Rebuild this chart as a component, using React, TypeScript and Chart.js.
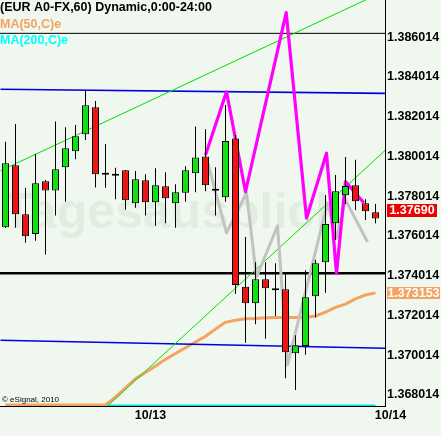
import React, { useEffect, useRef } from 'react';
import { Chart, registerables } from 'chart.js';

Chart.register(...registerables);

// ---- Candles (hourly EUR/USD, 38 bars) ----
const opens = [1.37645, 1.37957, 1.37711, 1.37612, 1.37877, 1.37831, 1.37947, 1.38028, 1.38113, 1.38249, 1.37910, 1.37905, 1.37932, 1.37766, 1.37882, 1.37771, 1.37852, 1.37766, 1.37819, 1.37917, 1.38002, 1.37829, 1.37796, 1.38092, 1.37346, 1.37263, 1.37384, 1.37328, 1.37333, 1.37011, 1.37048, 1.37298, 1.37469, 1.37665, 1.37806, 1.37857, 1.37766, 1.37721];
const highs = [1.38076, 1.38165, 1.37844, 1.38014, 1.37883, 1.38177, 1.38148, 1.38160, 1.38336, 1.38281, 1.38064, 1.37945, 1.37934, 1.37929, 1.37912, 1.37942, 1.37922, 1.37862, 1.37952, 1.38153, 1.38138, 1.37947, 1.38261, 1.38110, 1.37596, 1.37469, 1.37469, 1.37464, 1.37409, 1.37102, 1.37429, 1.37482, 1.37808, 1.37908, 1.37999, 1.37985, 1.37786, 1.37762];
const lows = [1.37642, 1.37643, 1.37568, 1.37578, 1.37509, 1.37704, 1.37774, 1.37987, 1.38085, 1.37846, 1.37844, 1.37786, 1.37734, 1.37744, 1.37704, 1.37653, 1.37665, 1.37643, 1.37774, 1.37821, 1.37826, 1.37704, 1.37774, 1.37310, 1.37065, 1.37157, 1.37085, 1.37199, 1.36886, 1.36827, 1.37004, 1.37192, 1.37316, 1.37581, 1.37762, 1.37732, 1.37682, 1.37665];
const closes = [1.37967, 1.37711, 1.37600, 1.37867, 1.37831, 1.37937, 1.38043, 1.38103, 1.38259, 1.37912, 1.37910, 1.37905, 1.37781, 1.37887, 1.37771, 1.37857, 1.37791, 1.37821, 1.37932, 1.37997, 1.37857, 1.37829, 1.38079, 1.37355, 1.37263, 1.37384, 1.37338, 1.37328, 1.37016, 1.37052, 1.37293, 1.37464, 1.37662, 1.37826, 1.37853, 1.37776, 1.37726, 1.37690];

// ---- Moving averages (values at the bottom edge are clipped off-chart) ----
const ma50 = [1.36751, 1.36751, 1.36751, 1.36751, 1.36751, 1.36751, 1.36751, 1.36751, 1.36751, 1.36751, 1.36751, 1.36791, 1.36838, 1.36883, 1.36915, 1.36948, 1.36981, 1.37010, 1.37039, 1.37068, 1.37097, 1.37133, 1.37167, 1.37178, 1.37185, 1.37187, 1.37190, 1.37192, 1.37192, 1.37192, 1.37192, 1.37199, 1.37219, 1.37242, 1.37259, 1.37285, 1.37305, 1.373153];
const ma200 = [1.36749, 1.36749, 1.36749, 1.36749, 1.36749, 1.36749, 1.36749, 1.36749, 1.36749, 1.36749, 1.36749, 1.36749, 1.36749, 1.36749, 1.36749, 1.36749, 1.36749, 1.36749, 1.36749, 1.36749, 1.36749, 1.36749, 1.36749, 1.36749, 1.36749, 1.36749, 1.36749, 1.36749, 1.36749, 1.36749, 1.36749, 1.36749, 1.36749, 1.36749, 1.36749, 1.36749, 1.36749, 1.36749];

// ---- Zigzag overlays ----
const magentaX = [20, 22.1, 24, 28.07, 30.1, 32.1, 33.1, 34, 35.83];
const magentaY = [1.38009, 1.38327, 1.37824, 1.38725, 1.37691, 1.38018, 1.37414, 1.37875, 1.37769];
const grayX = [20.2, 22.1, 24.1, 25.1, 27.2, 28.2, 32.2, 33.1, 34, 36.2];
const grayY = [1.37974, 1.37617, 1.37818, 1.37395, 1.37652, 1.36953, 1.37768, 1.37591, 1.37783, 1.37571];

// ---- Drawn lines ----
const fullSpanX = [-1, 39];
const edgeX = [-0.5, 38];
const blackTopLine = [1.38621, 1.38621];
const blackThickLine = [1.37414, 1.37414];
const blueUpper = [1.38340, 1.38319];
const blueLower = [1.37077, 1.37037];
const greenUpper = [1.37930, 1.38836];
const greenLowerX = [10.2, 38];
const greenLower = [1.36746, 1.38034];

// ---- Axes ----
const yRange = [1.367462, 1.387888];
const xRange = [-0.55, 37.95];
const yTickValues = [1.368014, 1.370014, 1.372014, 1.374014, 1.376014, 1.378014, 1.380014, 1.382014, 1.384014, 1.386014];
const xTickPositions = [14.5, 38.5];
const xTickLabels = ['10/13', '10/14'];

const titleText = '(EUR A0-FX,60) Dynamic,0:00-24:00';
const ma50Label = 'MA(50,C)e';
const ma200Label = 'MA(200,C)e';

const FONT = '"Liberation Sans", Arial, sans-serif';
const GREEN = '#12e012';
const RED = '#ee1414';

function lineDs(label: string, xs: number[], ys: number[], color: string, width: number, order: number) {
  return {
    type: 'line' as const,
    label,
    data: xs.map((x, i) => ({ x, y: ys[i] })),
    borderColor: color,
    backgroundColor: color,
    borderWidth: width,
    pointRadius: 0,
    tension: 0,
    fill: false,
    order,
    borderJoinStyle: 'round' as const,
  };
}

const bgPlugin = {
  id: 'bg',
  beforeDraw(chart: any) {
    const { ctx, width, height } = chart;
    ctx.save();
    ctx.fillStyle = '#eff7ef';
    ctx.fillRect(0, 0, width, height);
    ctx.restore();
  },
  beforeDatasetsDraw(chart: any) {
    const { ctx } = chart;
    ctx.save();
    ctx.font = `bold 50px ${FONT}`;
    ctx.fillStyle = 'rgba(0,60,0,0.05)';
    ctx.textBaseline = 'alphabetic';
    ctx.fillText('Tagesausblick', 2, 228);
    ctx.restore();
  },
};

const overlayPlugin = {
  id: 'overlay',
  afterDraw(chart: any) {
    const { ctx } = chart;
    const y = chart.scales.y;
    ctx.save();
    ctx.textBaseline = 'alphabetic';
    ctx.textAlign = 'left';
    ctx.font = `bold 12.5px ${FONT}`;
    ctx.fillStyle = '#000';
    ctx.fillText(titleText, 0, 11);
    ctx.fillStyle = '#f4a460';
    ctx.fillText(ma50Label, 0, 28);
    ctx.fillStyle = '#00ffff';
    ctx.fillText(ma200Label, 0, 44);

    ctx.font = `8px ${FONT}`;
    ctx.fillStyle = '#000';
    ctx.fillText('\u00a9 eSignal, 2010', 2, 402);

    // price flags
    const lastClose = closes[closes.length - 1];
    const pc = y.getPixelForValue(lastClose);
    ctx.fillStyle = '#ee0000';
    ctx.fillRect(387, Math.round(pc - 14), 50, 13);
    ctx.fillStyle = '#fff';
    ctx.font = `bold 12.5px ${FONT}`;
    ctx.textAlign = 'center';
    ctx.textBaseline = 'middle';
    ctx.fillText(lastClose.toFixed(5), 412, Math.round(pc - 14) + 7);

    const lastMa = ma50[ma50.length - 1];
    const pm = y.getPixelForValue(lastMa);
    ctx.fillStyle = '#f4a460';
    ctx.fillRect(387, Math.round(pm - 6), 53, 12);
    ctx.fillStyle = '#fff';
    ctx.fillText(lastMa.toFixed(6), 413.5, Math.round(pm - 6) + 6.5);
    ctx.restore();
  },
};

export default function App() {
  const ref = useRef<HTMLCanvasElement>(null);
  useEffect(() => {
    document.body.style.margin = '0';
    const idx = opens.map((_, i) => i);
    const bodyColors = opens.map((o, i) => (closes[i] > o ? GREEN : closes[i] < o ? RED : '#000'));
    const chart = new Chart(ref.current as HTMLCanvasElement, {
      type: 'bar',
      data: {
        datasets: [
          {
            type: 'bar',
            label: 'body',
            data: opens.map((o, i) => ({ x: i, y: [o, closes[i]] })) as any,
            backgroundColor: bodyColors,
            borderColor: '#000',
            borderWidth: 1,
            borderSkipped: false,
            barThickness: 7,
            minBarLength: 2,
            grouped: false,
            inflateAmount: 0,
            order: 0,
          } as any,
          {
            type: 'bar',
            label: 'wick',
            data: lows.map((l, i) => ({ x: i, y: [l, highs[i]] })) as any,
            backgroundColor: '#000',
            borderWidth: 0,
            barThickness: 1,
            grouped: false,
            inflateAmount: 0,
            order: 1,
          } as any,
          lineDs('zigzag', magentaX, magentaY, '#ff00ff', 3.2, 2),
          lineDs('zigzag2', grayX, grayY, '#c2c2c2', 3, 3),
          lineDs('trendUp', edgeX, greenUpper, '#00dd00', 1, 4),
          lineDs('trendLow', greenLowerX, greenLower, '#00dd00', 1, 4),
          lineDs('hTop', fullSpanX, blackTopLine, '#000', 1, 5),
          lineDs('hThick', fullSpanX, blackThickLine, '#000', 2.5, 5),
          lineDs('chanUp', edgeX, blueUpper, '#0000e0', 1.5, 6),
          lineDs('chanLow', edgeX, blueLower, '#0000e0', 1.5, 6),
          lineDs('MA50', idx, ma50, '#f4a460', 3, 7),
          lineDs('MA200', idx, ma200, '#00e5e5', 2, 8),
        ] as any,
      },
      options: {
        animation: false,
        responsive: false,
        events: [],
        layout: { padding: 0 },
        plugins: { legend: { display: false }, tooltip: { enabled: false } },
        scales: {
          x: {
            type: 'linear',
            min: xRange[0],
            max: xRange[1],
            offset: false,
            grid: { display: false, drawTicks: false },
            border: { display: true, color: '#000', width: 1 },
            ticks: {
              autoSkip: false,
              maxRotation: 0,
              padding: 2,
              color: '#000',
              font: { family: FONT, size: 12.5, weight: 'bold' },
              callback: (v: any) => {
                const k = xTickPositions.indexOf(Number(v));
                return k >= 0 ? xTickLabels[k] : '';
              },
            },
            afterBuildTicks: (s: any) => {
              s.ticks = xTickPositions.map((v) => ({ value: v }));
            },
            afterFit: (s: any) => {
              s.height = 30;
              s.paddingLeft = 0;
              s.paddingRight = 0;
            },
          },
          y: {
            type: 'linear',
            position: 'right',
            min: yRange[0],
            max: yRange[1],
            grid: { display: false, drawTicks: false },
            border: { display: true, color: '#000', width: 1 },
            ticks: {
              padding: 2,
              color: '#000',
              font: { family: FONT, size: 12.5, weight: 'bold' },
              callback: (v: any) => Number(v).toFixed(6),
            },
            afterBuildTicks: (s: any) => {
              s.ticks = yTickValues.map((v) => ({ value: v }));
            },
            afterFit: (s: any) => {
              s.width = 56;
              s.paddingTop = 0;
              s.paddingBottom = 0;
            },
          },
        } as any,
      },
      plugins: [bgPlugin, overlayPlugin],
    });
    return () => chart.destroy();
  }, []);
  return (
    <div style={{ width: 441, height: 436 }}>
      <canvas ref={ref} width={441} height={436} style={{ display: 'block' }} />
    </div>
  );
}
